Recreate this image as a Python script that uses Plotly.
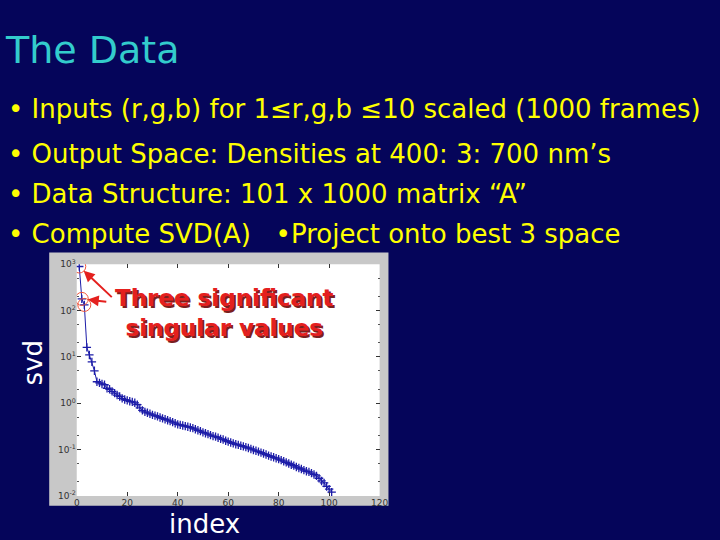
import plotly.graph_objects as go

index = list(range(1, 102))
svd_values = [
    890, 178, 132, 16, 11, 7.8, 5.0, 2.9, 2.75, 2.6,
    2.5, 2.1, 2.0, 1.8, 1.65, 1.5, 1.4, 1.27, 1.2, 1.15,
    1.1, 1.07, 1.02, 0.93, 0.79, 0.70, 0.65, 0.62, 0.59, 0.56,
    0.54, 0.52, 0.49, 0.47, 0.45, 0.43, 0.41, 0.39, 0.37, 0.35,
    0.34, 0.33, 0.32, 0.31, 0.30, 0.29, 0.275, 0.26, 0.25, 0.235,
    0.225, 0.215, 0.205, 0.195, 0.19, 0.18, 0.17, 0.165, 0.155, 0.148,
    0.142, 0.136, 0.13, 0.126, 0.121, 0.117, 0.113, 0.108, 0.103, 0.098,
    0.094, 0.09, 0.086, 0.082, 0.078, 0.074, 0.071, 0.068, 0.065, 0.062,
    0.059, 0.056, 0.053, 0.050, 0.047, 0.045, 0.042, 0.040, 0.038, 0.036,
    0.034, 0.033, 0.031, 0.029, 0.027, 0.024, 0.021, 0.019, 0.016, 0.014, 0.012,
]
x_ticks = [0, 20, 40, 60, 80, 100, 120]
x_tick_labels = ["0", "20", "40", "60", "80", "100", "120"]
y_ticks = [0.01, 0.1, 1, 10, 100, 1000]
y_tick_labels = ["10<sup>-2</sup>", "10<sup>-1</sup>", "10<sup>0</sup>",
                 "10<sup>1</sup>", "10<sup>2</sup>", "10<sup>3</sup>"]

title_text = "The Data"
bullets = [
    "• Inputs (r,g,b) for 1≤r,g,b ≤10 scaled (1000 frames)",
    "• Output Space: Densities at 400: 3: 700 nm’s",
    "• Data Structure: 101 x 1000 matrix “A”",
    "• Compute SVD(A)   •Project onto best 3 space",
]

NAVY = "#05055a"
W, H = 720, 540

def px(x):
    return x / W

def py(y):
    return 1 - y / H

fig = go.Figure()
fig.add_trace(go.Scatter(
    x=index, y=svd_values, mode="lines+markers",
    line=dict(color="#1c1ca8", width=1),
    marker=dict(symbol="cross-thin", size=6, line=dict(color="#1c1ca8", width=1.3)),
    showlegend=False, hoverinfo="skip",
))
fig.add_trace(go.Scatter(
    x=index[:3], y=svd_values[:3], mode="markers",
    marker=dict(symbol="circle-open", size=13, line=dict(color="#d03050", width=1)),
    showlegend=False, hoverinfo="skip",
))

fig.update_layout(
    width=W, height=H,
    margin=dict(l=0, r=0, t=0, b=0),
    paper_bgcolor=NAVY,
    plot_bgcolor="white",
    xaxis=dict(domain=[px(75), px(383)], range=[0, 120], tickvals=x_ticks, ticktext=x_tick_labels,
               ticks="inside", ticklen=4, tickcolor="#333", mirror="ticks", showline=False,
               showgrid=False, zeroline=False,
               tickfont=dict(family="DejaVu Sans", size=9, color="#333")),
    yaxis=dict(domain=[py(500), py(263)], type="log", range=[-2, 3], tickvals=y_ticks,
               ticktext=y_tick_labels, ticks="inside", ticklen=4, tickcolor="#333",
               mirror="ticks", showline=False, showgrid=False, zeroline=False,
               minor=dict(ticks="inside", ticklen=2, tickcolor="#555"),
               tickfont=dict(family="DejaVu Sans", size=9, color="#333")),
    shapes=[
        dict(type="rect", xref="paper", yref="paper", x0=px(47), x1=px(392),
             y0=py(510), y1=py(251), fillcolor="#c8c8c8", line=dict(width=0), layer="below"),
        dict(type="rect", xref="paper", yref="paper", x0=px(75), x1=px(383),
             y0=py(500), y1=py(263), fillcolor="white", line=dict(width=0), layer="below"),
    ],
)

ann = []
ann.append(dict(text=title_text, xref="paper", yref="paper", x=px(0), y=py(44),
                xanchor="left", yanchor="middle", showarrow=False,
                font=dict(family="DejaVu Sans", size=38, color="#33cccc")))
for i, (t, yy) in enumerate(zip(bullets, [104, 150, 191, 232])):
    ann.append(dict(text=t, xref="paper", yref="paper", x=px(3), y=py(yy),
                    xanchor="left", yanchor="middle", showarrow=False,
                    font=dict(family="DejaVu Sans", size=26, color="#ffff00")))
# Red annotation with shadow
for dx, dy, col in [(1.5, 1.5, "#7a2020"), (0, 0, "#e4201e")]:
    ann.append(dict(text="<b>Three significant</b><br><b>singular values</b>", xref="paper", yref="paper",
                    x=px(225 + dx), y=py(313 + dy), xanchor="center", yanchor="middle",
                    showarrow=False, align="center",
                    font=dict(family="DejaVu Sans", size=23, color=col)))
ann.append(dict(x=1, y=2.949, xref="x", yref="y", ax=34, ay=32, showarrow=True, text="",
                arrowhead=2, arrowsize=1.1, arrowwidth=2, arrowcolor="#e4201e", standoff=6))
ann.append(dict(x=2, y=2.25, xref="x", yref="y", ax=26, ay=3, showarrow=True, text="",
                arrowhead=2, arrowsize=1.1, arrowwidth=2, arrowcolor="#e4201e", standoff=6))
ann.append(dict(text="svd", xref="paper", yref="paper", x=px(30), y=py(364),
                xanchor="center", yanchor="middle", textangle=-90, showarrow=False,
                font=dict(family="DejaVu Sans", size=26, color="white")))
ann.append(dict(text="index", xref="paper", yref="paper", x=px(205), y=py(529),
                xanchor="center", yanchor="middle", showarrow=False,
                font=dict(family="DejaVu Sans", size=26, color="white")))
fig.update_layout(annotations=ann)

fig.write_html("out.html", config={"displayModeBar": False},
               post_script="document.body.style.margin='0';")
